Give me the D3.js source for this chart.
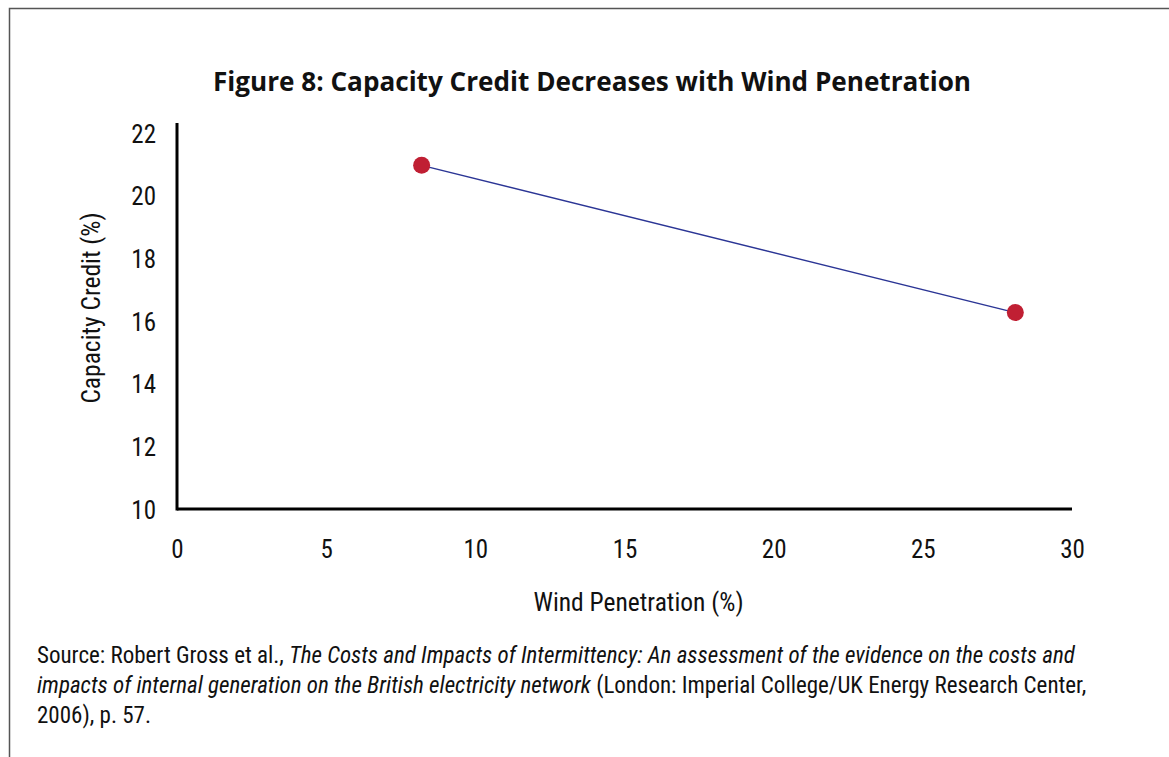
<!DOCTYPE html>
<html><head><meta charset="utf-8">
<script src="https://cdn.jsdelivr.net/npm/d3@7"></script>
<style>
body{margin:0;background:#fff;}
svg{display:block;}
.cond{font-family:"Liberation Sans Narrow","Roboto Condensed","Arial Narrow",Roboto,sans-serif;}
</style></head>
<body>
<svg id="chart" width="1169" height="757"></svg>
<script>
const title = "Figure 8: Capacity Credit Decreases with Wind Penetration";
const xLabel = "Wind Penetration (%)";
const yLabel = "Capacity Credit (%)";
const windPenetration = [8.2, 28.1];
const capacityCredit = [21.0, 16.3];
const xTicks = [0, 5, 10, 15, 20, 25, 30];
const yTicks = [10, 12, 14, 16, 18, 20, 22];

const svg = d3.select("#chart");
// frame
svg.append("path").attr("d","M9.5,757 V8.5 H1169").attr("fill","none").attr("stroke","#555").attr("stroke-width",1.5);

svg.append("text").attr("x",592).attr("y",91).attr("text-anchor","middle")
  .attr("font-family","'Open Sans', Lato, sans-serif").attr("font-weight","bold").attr("font-size",26)
  .attr("textLength",758).attr("lengthAdjust","spacingAndGlyphs")
  .attr("fill","#111").text(title);

const x = d3.scaleLinear().domain([0,30]).range([177,1072]);
const y = d3.scaleLinear().domain([10,22]).range([510,134]);

const xAxis = svg.append("g").attr("transform","translate(0,509)")
  .call(d3.axisBottom(x).tickValues(xTicks).tickSize(0).tickPadding(31).tickFormat(d3.format("d")));
xAxis.select(".domain").attr("d","M177,0 H1072").attr("stroke","#000").attr("stroke-width",3);
xAxis.selectAll("text").attr("class","cond").attr("font-size",25).attr("fill","#111");

const yAxis = svg.append("g").attr("transform","translate(177,0)")
  .call(d3.axisLeft(y).tickValues(yTicks).tickSize(0).tickPadding(21).tickFormat(d3.format("d")));
yAxis.select(".domain").attr("d","M0,123 V510.5").attr("stroke","#000").attr("stroke-width",3);
yAxis.selectAll("text").attr("class","cond").attr("font-size",25).attr("fill","#111");

const pts = windPenetration.map((v,i)=>({x:v,y:capacityCredit[i]}));
svg.append("path").datum(pts)
  .attr("d", d3.line().x(d=>x(d.x)).y(d=>y(d.y)))
  .attr("fill","none").attr("stroke","#2b3595").attr("stroke-width",1.4);
svg.selectAll("circle.pt").data(pts).enter().append("circle")
  .attr("cx",d=>x(d.x)).attr("cy",d=>y(d.y)).attr("r",8.5).attr("fill","#c01f33");

svg.append("text").attr("class","cond").attr("x",638.5).attr("y",611).attr("text-anchor","middle")
  .attr("font-size",25.5).attr("fill","#111").text(xLabel);
svg.append("text").attr("class","cond").attr("transform","translate(100,308) rotate(-90)").attr("text-anchor","middle")
  .attr("font-size",25.5).attr("fill","#111").text(yLabel);

const src = svg.append("g").attr("class","cond").attr("font-size",23).attr("fill","#111");
const l1 = src.append("text").attr("x",37).attr("y",663);
l1.append("tspan").text("Source: Robert Gross et al., ");
l1.append("tspan").attr("font-style","italic").text("The Costs and Impacts of Intermittency: An assessment of the evidence on the costs and");
const l2 = src.append("text").attr("x",37).attr("y",693);
l2.append("tspan").attr("font-style","italic").text("impacts of internal generation on the British electricity network");
l2.append("tspan").text(" (London: Imperial College/UK Energy Research Center,");
src.append("text").attr("x",37).attr("y",723).text("2006), p. 57.");
</script>
</body></html>
